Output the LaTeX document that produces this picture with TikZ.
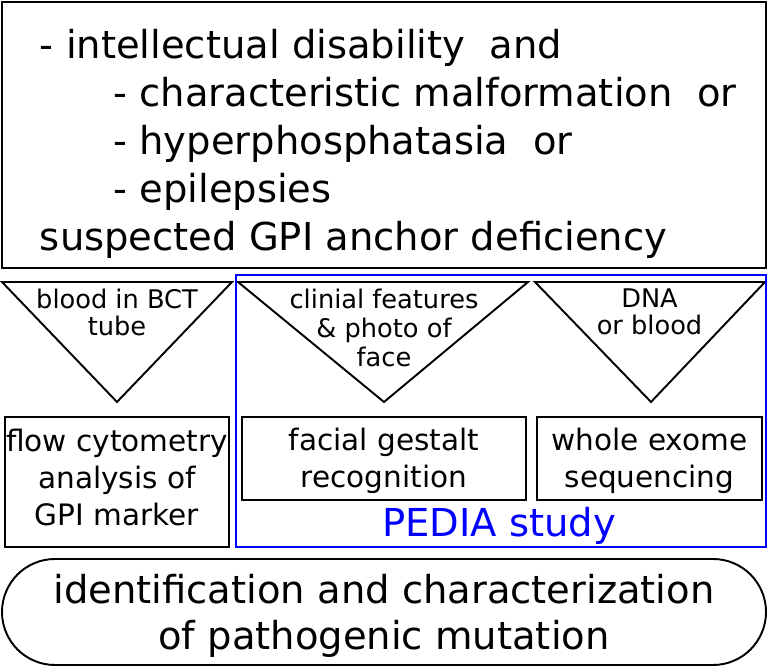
\documentclass[tikz,border=0pt]{standalone}
\usepackage{fontspec}
\setmainfont{DejaVu Sans}
\definecolor{pediaBlue}{HTML}{0000FF}
\usetikzlibrary{positioning}

\begin{document}
\begin{tikzpicture}[
    line width=1.1pt,
    bigtext/.style={font=\fontsize{21.9}{27.3}\selectfont},
    box/.style={
      draw,
      inner sep=0pt,
      align=center,
      font=\fontsize{16.8}{21}\selectfont,
    },
    sample/.style={inner sep=0pt, align=center, font=\fontsize{14.6}{15.5}\selectfont},
    funnel/.style={draw, line join=miter},
  ]
  \useasboundingbox (0,0) rectangle (15.36,13.32);

  % criteria
  \node[draw, minimum width=15.28cm, minimum height=5.32cm] (critbox) at (7.68,10.62) {};
  \node[bigtext, align=left, anchor=north west, inner sep=0pt] (crit) at (0.78,12.76)
    {- intellectual disability\ \ and\\
     \hspace*{1.47cm}- characteristic malformation\ \ or\\
     \hspace*{1.47cm}- hyperphosphatasia\ \ or\\
     \hspace*{1.47cm}- epilepsies\\
     suspected GPI anchor deficiency};

  % sample funnels
  \draw[funnel] (0.04,7.68) -- (4.64,7.68) -- (2.34,5.28) -- cycle;
  \draw[funnel] (4.76,7.68) -- (10.56,7.68) -- (7.68,5.28) -- cycle;
  \draw[funnel] (10.70,7.68) -- (15.30,7.68) -- (13.02,5.28) -- cycle;
  \node[sample, anchor=north] (blood) at (2.34,7.56) {blood in BCT\\tube};
  \node[sample, anchor=north, font=\fontsize{14.6}{16.4}\selectfont] (photo) at (7.68,7.56) {clinial features\\\& photo of\\face};
  \node[sample, anchor=north] (dna) at (12.99,7.56) {DNA\\or blood};

  % analyses
  \node[box, minimum width=4.48cm, minimum height=2.6cm, text depth=0.2cm] (flow) at (2.34,3.68) {flow cytometry\\analysis of\\GPI marker};
  \node[box, minimum width=5.68cm, minimum height=1.66cm, text depth=0.03cm] (gestalt) at (7.68,4.15) {facial gestalt\\recognition};
  \node[box, minimum width=4.5cm, minimum height=1.66cm, text depth=0.03cm] (exome) at (12.99,4.15) {whole exome\\sequencing};

  % PEDIA frame
  \draw[pediaBlue] (4.72,2.38) rectangle (15.32,7.82);
  \node[bigtext, text=pediaBlue, anchor=base, inner sep=0pt] (pedia) at (9.98,2.58) {PEDIA study};

  \node[draw, rounded corners=1.06cm, minimum width=15.28cm, minimum height=2.12cm, align=center, inner sep=0pt, text depth=0pt,
        font=\fontsize{21.9}{26.2}\selectfont] (result) at (7.68,1.08)
    {identification and characterization\\of pathogenic mutation};
\end{tikzpicture}
\end{document}
